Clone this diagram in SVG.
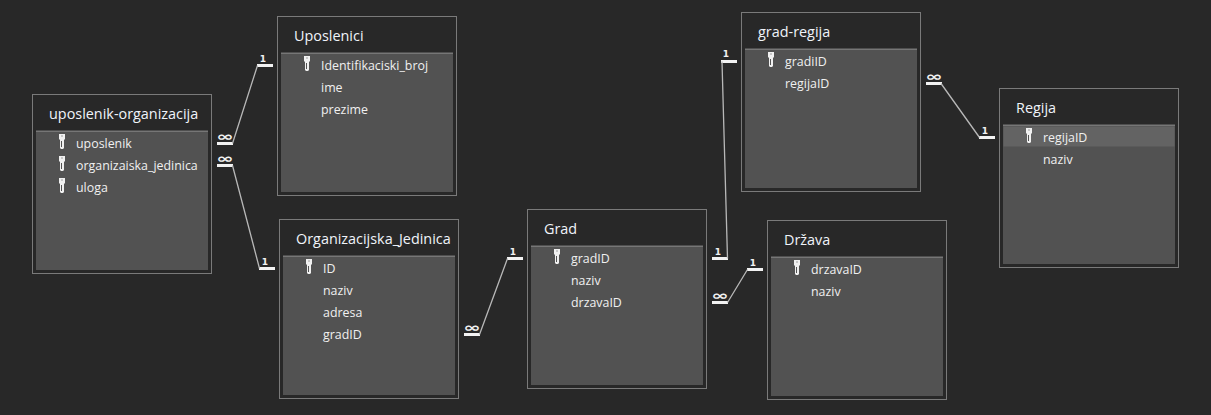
<svg xmlns="http://www.w3.org/2000/svg" width="1211" height="415" viewBox="0 0 1211 415">
<style>
.o{fill:#282828;stroke:#7a7a7a;stroke-width:1}
.i{fill:#525252}
.h{fill:#767676}
.t{font:14.4px "Open Sans","Noto Sans",sans-serif;fill:#f0f4fa}
.r{font:12.4px "Open Sans","Noto Sans",sans-serif;fill:#f0f0f0}
.b{stroke:#f2f2f2;stroke-width:3;fill:none}
.l{stroke:#b8b8b8;stroke-width:1.3;fill:none}
.n{font:bold 9px "DejaVu Sans",sans-serif;fill:#f2f2f2;text-anchor:middle}
.f{font:bold 13px "DejaVu Sans",sans-serif;fill:#f2f2f2;text-anchor:middle}
</style>
<defs>
<g id="k"><path d="M0 0h6v5l-1 1v8l-1 1h-2l-1-1v-8l-1-1z" fill="#f0f0f0"/><rect x="2.5" y="1.5" width="1" height="1" fill="#525252"/><path d="M2.5 7v6" stroke="#525252"/></g>
<g id="box"><rect class="o" x="0" y="0" width="179" height="179"/><rect class="i" x="3.5" y="36.5" width="172" height="139"/><rect class="h" x="3.5" y="36" width="172" height="1.5"/></g>
</defs>
<rect width="1211" height="415" fill="#282828"/>
<g id="connectors">
<path class="b" d="M217 143.5h16M257 65.5h16M217 165.5h16M259 268.5h16M464 334.5h16M507 258.5h16M712 258.5h16M721 61.5h16M712 302.5h16M747 269.5h16M926 83.5h16M979 137.5h16"/>
<path class="l" d="M232.5 143.5L257.5 65.5M232.5 165.5L259.5 268.5M479.5 334.5L507.5 258.5M727.5 258.5L722 61.5M727.5 302.5L747.5 269.5M941 83.5L979.5 137.5"/>
<text class="f" transform="translate(225 141) scale(1.6 1)">∞</text><text class="n" x="263" y="62">1</text>
<text class="f" transform="translate(225 163) scale(1.6 1)">∞</text><text class="n" x="265" y="265">1</text>
<text class="f" transform="translate(472 332) scale(1.6 1)">∞</text><text class="n" x="513" y="255">1</text>
<text class="n" x="718" y="255">1</text><text class="n" x="726" y="57">1</text>
<text class="f" transform="translate(720 300) scale(1.6 1)">∞</text><text class="n" x="753" y="266">1</text>
<text class="f" transform="translate(934 81) scale(1.6 1)">∞</text><text class="n" x="985" y="134">1</text>
</g>
<g id="uposlenik-organizacija" transform="translate(32.5 94.5)"><use href="#box"/>
<text class="t" x="16.5" y="24">uposlenik-organizacija</text>
<use href="#k" x="26.5" y="39.5"/><text class="r" x="43.5" y="53">uposlenik</text>
<use href="#k" x="26.5" y="61.5"/><text class="r" x="43.5" y="75">organizaiska_jedinica</text>
<use href="#k" x="26.5" y="83.5"/><text class="r" x="43.5" y="97">uloga</text></g>
<g id="uposlenici" transform="translate(277.5 16.5)"><use href="#box"/>
<text class="t" x="16.5" y="24">Uposlenici</text>
<use href="#k" x="26.5" y="39.5"/><text class="r" x="43.5" y="53">Identifikaciski_broj</text>
<text class="r" x="43.5" y="75">ime</text><text class="r" x="43.5" y="97">prezime</text></g>
<g id="organizacijska-jedinica" transform="translate(279.5 219.5)"><use href="#box"/>
<text class="t" x="16.5" y="24">Organizacijska_Jedinica</text>
<use href="#k" x="26.5" y="39.5"/><text class="r" x="43.5" y="53">ID</text>
<text class="r" x="43.5" y="75">naziv</text><text class="r" x="43.5" y="97">adresa</text><text class="r" x="43.5" y="119">gradID</text></g>
<g id="grad" transform="translate(527.5 209.5)"><use href="#box"/>
<text class="t" x="16.5" y="24">Grad</text>
<use href="#k" x="26.5" y="39.5"/><text class="r" x="43.5" y="53">gradID</text>
<text class="r" x="43.5" y="75">naziv</text><text class="r" x="43.5" y="97">drzavaID</text></g>
<g id="drzava" transform="translate(767.5 220.5)"><use href="#box"/>
<text class="t" x="16.5" y="24">Država</text>
<use href="#k" x="26.5" y="39.5"/><text class="r" x="43.5" y="53">drzavaID</text>
<text class="r" x="43.5" y="75">naziv</text></g>
<g id="grad-regija" transform="translate(741.5 12.5)"><use href="#box"/>
<text class="t" x="16.5" y="24">grad-regija</text>
<use href="#k" x="26.5" y="39.5"/><text class="r" x="43.5" y="53">gradiID</text>
<text class="r" x="43.5" y="75">regijaID</text></g>
<g id="regija" transform="translate(999.5 88.5)"><use href="#box"/>
<rect x="4" y="38" width="171" height="20" fill="#636363"/>
<text class="t" x="16.5" y="24">Regija</text>
<use href="#k" x="26.5" y="39.5"/><text class="r" x="43.5" y="53">regijaID</text>
<text class="r" x="43.5" y="75">naziv</text></g>
</svg>
